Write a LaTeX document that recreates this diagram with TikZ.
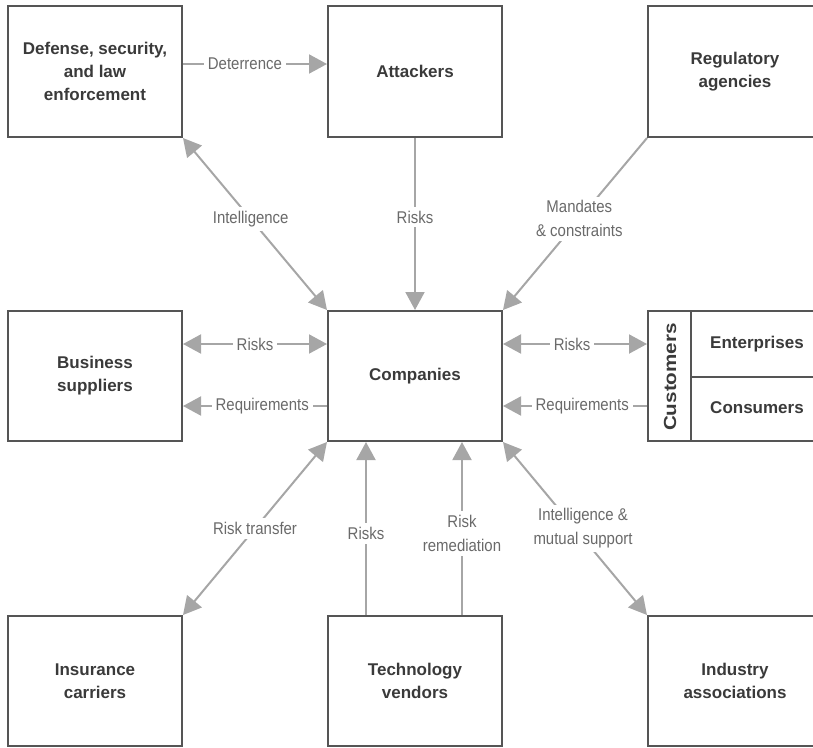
\documentclass[tikz,border=0pt]{standalone}
\usepackage{fontspec}
\setmainfont{Liberation Sans}
\newfontfamily\lblfont[FakeStretch=0.88]{Liberation Sans}
\newfontfamily\widefont[FakeStretch=1.18]{Liberation Sans}
\usetikzlibrary{arrows.meta}
\definecolor{frame}{HTML}{555555}
\definecolor{boxtext}{HTML}{3A3A3A}
\definecolor{linkgray}{HTML}{A6A6A6}
\definecolor{linktext}{HTML}{6A6A6A}
\begin{document}
\begin{tikzpicture}[x=1pt,y=-1pt,
  >={Triangle[length=18pt,width=19pt]},
  entity/.style={draw=frame, line width=2pt, minimum width=174pt,
    minimum height=130pt, inner sep=0pt, align=center, text=boxtext,
    font=\fontsize{17}{23}\selectfont\bfseries},
  plain/.style={inner sep=0pt, align=center, text=boxtext,
    font=\fontsize{17}{23}\selectfont\bfseries},
  link/.style={draw=linkgray, line width=2pt},
  lbl/.style={fill=white, inner sep=4pt, align=center, text=linktext,
    font=\lblfont\fontsize{17}{24}\selectfont}]
\useasboundingbox (0,0) rectangle (813,747);
\clip (0,0) rectangle (813,747);

% organisations
\node[entity, minimum height=131pt] (def) at (95,71.5) {Defense, security,\\and law\\enforcement};
\node[entity, minimum height=131pt] (att) at (415,71.5) {Attackers};
\node[entity, minimum height=131pt] (reg) at (735,71.5) {Regulatory\\agencies};
\node[entity] (bus) at (95,376) {Business\\suppliers};
\node[entity] (comp) at (415,376) {Companies};
\node[entity] (cust) at (735,376) {};
\node[entity] (ins) at (95,681) {Insurance\\carriers};
\node[entity] (tech) at (415,681) {Technology\\vendors};
\node[entity] (ind) at (735,681) {Industry\\associations};

% customer segments
\draw[draw=frame, line width=2pt] ([xshift=44pt]cust.north west) -- ([xshift=44pt]cust.south west);
\draw[draw=frame, line width=2pt] ([xshift=44pt,yshift=-1pt]cust.west) -- ([yshift=-1pt]cust.east);
\node[plain, rotate=90, font=\widefont\fontsize{17.5}{23}\selectfont\bfseries] (custlbl) at (670,377) {Customers};
\node[plain] (entr) at (757,344) {Enterprises};
\node[plain] (cons) at (757,408) {Consumers};

% relationships
\draw[link,->] ([yshift=7.5pt]def.east) -- node[lbl, pos=0.43] {Deterrence} ([yshift=7.5pt]att.west);
\draw[link,<->] (def.south east) -- node[lbl, pos=0.47] {Intelligence} (comp.north west);
\draw[link,->] (att.south) -- node[lbl, pos=0.46] {Risks} (comp.north);
\draw[link,->] (reg.south west) -- node[lbl, pos=0.47] {Mandates\\\& constraints} (comp.north east);

\draw[link,<->] ([yshift=32pt]bus.east) -- node[lbl, pos=0.5] {Risks} ([yshift=32pt]comp.west);
\draw[link,<-] ([yshift=-30pt]bus.east) -- node[lbl, pos=0.55] {Requirements} ([yshift=-30pt]comp.west);
\draw[link,<->] ([yshift=32pt]comp.east) -- node[lbl, pos=0.48] {Risks} ([yshift=32pt]cust.west);
\draw[link,<-] ([yshift=-30pt]comp.east) -- node[lbl, pos=0.55] {Requirements} ([yshift=-30pt]cust.west);

\draw[link,<->] (comp.south west) -- node[lbl, pos=0.5] {Risk transfer} (ins.north east);
\draw[link,->] ([xshift=-49pt]tech.north) -- node[lbl, pos=0.47] {Risks} ([xshift=-49pt]comp.south);
\draw[link,->] ([xshift=47pt]tech.north) -- node[lbl, pos=0.47] {Risk\\remediation} ([xshift=47pt]comp.south);
\draw[link,<->] (comp.south east) -- node[lbl, pos=0.5, xshift=8pt] {Intelligence \&\\mutual support} (ind.north west);
\end{tikzpicture}
\end{document}
